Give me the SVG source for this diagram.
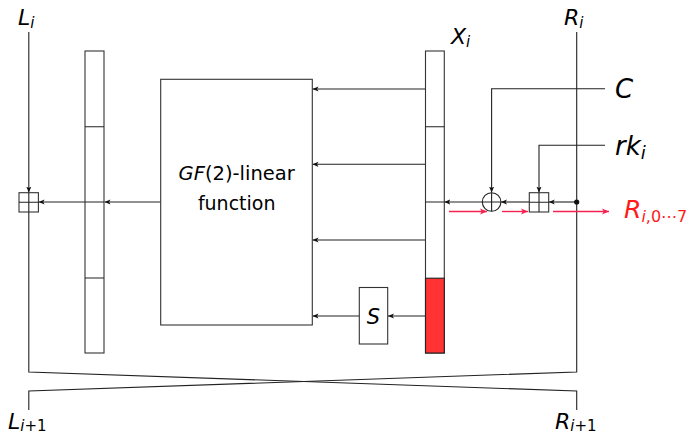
<svg xmlns="http://www.w3.org/2000/svg" width="689" height="433" viewBox="0 0 689 433">
<style>
.ln{fill:none;stroke:#222;stroke-width:1.1}
.bx{fill:#fff;stroke:#333;stroke-width:1.1}
.red{fill:none;stroke:#f5214f;stroke-width:1.4}
.t{font-family:"DejaVu Sans",sans-serif;fill:#000}
.it{font-style:italic}
.rt{fill:#ff1a1a}
</style>
<defs>
<marker id="ah" markerWidth="7" markerHeight="6" refX="6" refY="3" orient="auto" markerUnits="userSpaceOnUse"><path d="M0,0.4 L6,3 L0,5.6 L1.5,3 z" fill="#111"/></marker>
<marker id="ahr" markerWidth="8" markerHeight="7" refX="7" refY="3.5" orient="auto" markerUnits="userSpaceOnUse"><path d="M0,0.5 L7,3.5 L0,6.5 L1.8,3.5 z" fill="#f5214f"/></marker>
</defs>

<g id="connectors">
<path class="ln" d="M28.8,32 V192.5" marker-end="url(#ah)"/>
<path class="ln" d="M28.8,211.5 V372 L576.7,391 V410"/>
<path class="ln" d="M576.7,32 V372 L28.8,391 V410"/>
<path class="ln" d="M160.7,202 H104.5" marker-end="url(#ah)"/>
<path class="ln" d="M104,202 H38.6" marker-end="url(#ah)"/>
<path class="ln" d="M425.5,89 H312.5" marker-end="url(#ah)"/>
<path class="ln" d="M425.5,164.3 H312.5" marker-end="url(#ah)"/>
<path class="ln" d="M425.5,240 H312.5" marker-end="url(#ah)"/>
<path class="ln" d="M425.5,316 H388" marker-end="url(#ah)"/>
<path class="ln" d="M359.3,316 H312.5" marker-end="url(#ah)"/>
<path class="ln" d="M605,88.7 H491.6 V192.5" marker-end="url(#ah)"/>
<path class="ln" d="M605,145.3 H539 V192.5" marker-end="url(#ah)"/>
<path class="ln" d="M576.7,202 H548.8" marker-end="url(#ah)"/>
<path class="ln" d="M529.3,202 H501" marker-end="url(#ah)"/>
<path class="ln" d="M482.2,202 H444.4" marker-end="url(#ah)"/>
<path class="red" d="M449,211.5 H487" marker-end="url(#ahr)"/>
<path class="red" d="M502,211.5 H528" marker-end="url(#ahr)"/>
<path class="red" d="M553,211.5 H609" marker-end="url(#ahr)"/>
<circle cx="576.7" cy="202" r="2.6" fill="#111"/>
</g>

<g id="left-column">
<rect class="bx" x="85" y="51" width="19" height="302"/>
<path class="ln" d="M85,126.7 H104 M85,202 H104 M85,278 H104"/>
</g>

<g id="x-column">
<rect class="bx" x="425.5" y="51" width="18.8" height="302"/>
<rect x="425.5" y="278.2" width="18.8" height="74.8" fill="#ff3333" stroke="#222" stroke-width="1.1"/>
<path class="ln" d="M425.5,126.7 H444.3 M425.5,202 H444.3"/>
</g>

<g id="gf-function">
<rect class="bx" x="160.7" y="79.3" width="151.6" height="245.7"/>
<text class="t" x="236.7" y="180" font-size="19.5" text-anchor="middle"><tspan class="it">GF</tspan>(2)-linear</text>
<text class="t" x="236.7" y="209.5" font-size="19" text-anchor="middle">function</text>
</g>

<g id="s-box">
<rect class="bx" x="359.3" y="287.5" width="28.4" height="56.5"/>
<text class="t it" x="373.5" y="323.5" font-size="21" text-anchor="middle">S</text>
</g>

<g id="xor">
<circle cx="491.6" cy="202" r="9.3" fill="#fff" stroke="#222" stroke-width="1.1"/>
<path class="ln" d="M482.3,202 H500.9 M491.6,192.7 V211.3"/>
</g>

<g id="add-key">
<rect class="bx" x="529.3" y="192.7" width="19.4" height="19.3"/>
<path class="ln" d="M529.3,202.3 H548.7 M539,192.7 V212"/>
</g>

<g id="add-left">
<rect class="bx" x="19" y="192.7" width="19.4" height="19.3"/>
<path class="ln" d="M19,202.3 H38.4 M28.8,192.7 V212"/>
</g>

<g id="labels">
<text class="t" x="18" y="25" font-size="22"><tspan class="it">L</tspan><tspan class="it" font-size="15" dy="2.5">i</tspan></text>
<text class="t" x="564" y="25" font-size="22"><tspan class="it">R</tspan><tspan class="it" font-size="15" dy="2.5">i</tspan></text>
<text class="t" x="451" y="44" font-size="22"><tspan class="it">X</tspan><tspan class="it" font-size="15" dy="2.5">i</tspan></text>
<text class="t it" x="615" y="98" font-size="26">C</text>
<text class="t" x="615" y="155" font-size="26"><tspan class="it">rk</tspan><tspan class="it" font-size="18" dy="3.5">i</tspan></text>
<text class="t rt" x="624" y="218" font-size="25"><tspan class="it">R</tspan><tspan font-size="16" dy="3.5"><tspan class="it">i</tspan>,0⋯7</tspan></text>
<text class="t" x="8" y="428.5" font-size="22"><tspan class="it">L</tspan><tspan font-size="15" dy="2"><tspan class="it">i</tspan>+1</tspan></text>
<text class="t" x="555" y="428.5" font-size="22"><tspan class="it">R</tspan><tspan font-size="15" dy="2"><tspan class="it">i</tspan>+1</tspan></text>
</g>
</svg>
